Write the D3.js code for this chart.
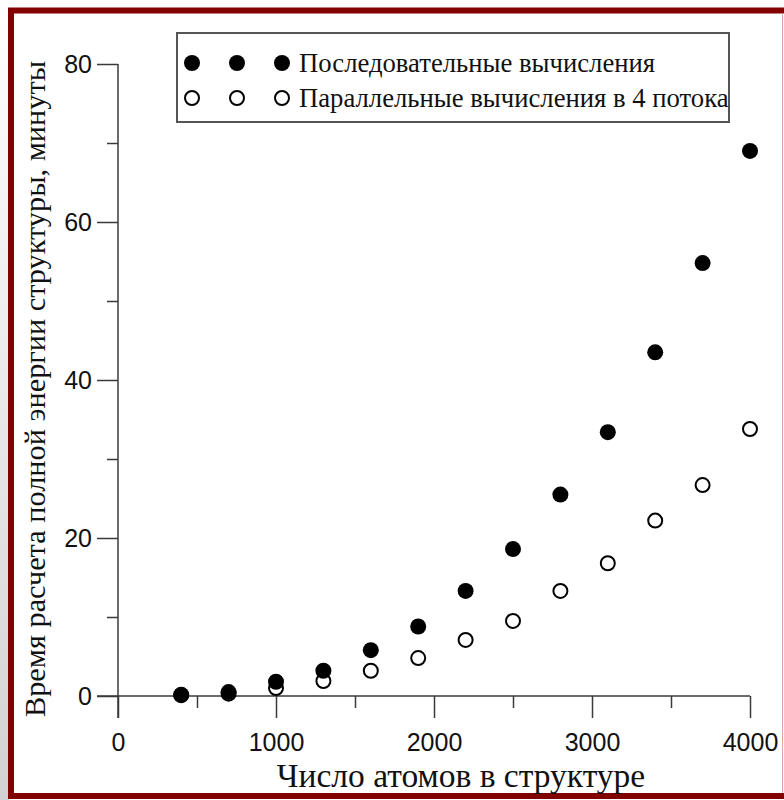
<!DOCTYPE html>
<html>
<head>
<meta charset="utf-8">
<script src="https://cdn.jsdelivr.net/npm/d3@7/dist/d3.min.js"></script>
<style>
  html, body { margin: 0; padding: 0; background: #fff; }
  svg { display: block; }
</style>
</head>
<body>
<script>
// Atom counts in the structure
const atoms = [400, 700, 1000, 1300, 1600, 1900, 2200, 2500, 2800, 3100, 3400, 3700, 4000];
// Total energy computation time, minutes
const sequentialMinutes = [0.15, 0.5, 1.8, 3.2, 5.8, 8.8, 13.3, 18.6, 25.5, 33.4, 43.5, 54.8, 69.0];
const parallelMinutes   = [0.1, 0.3, 1.0, 1.9, 3.2, 4.8, 7.1, 9.5, 13.3, 16.8, 22.2, 26.7, 33.8];

const xTicks = [0, 1000, 2000, 3000, 4000];
const xMinorTicks = [500, 1500, 2500, 3500];
const yTicks = [0, 20, 40, 60, 80];
const yMinorTicks = [10, 30, 50, 70];

const legendLabels = ["Последовательные вычисления", "Параллельные вычисления в 4 потока"];
const xTitle = "Число атомов в структуре";
const yTitle = "Время расчета полной энергии структуры, минуты";

const W = 784, H = 800;
const svg = d3.select("body").append("svg").attr("width", W).attr("height", H);

// Soft grey shade along the left edge of the slide
const defs = svg.append("defs");
const grad = defs.append("linearGradient").attr("id", "leftShade")
  .attr("x1", 0).attr("y1", 0).attr("x2", 0).attr("y2", 1);
grad.append("stop").attr("offset", "0%").attr("stop-color", "#ffffff");
grad.append("stop").attr("offset", "30%").attr("stop-color", "#f2f2f2");
grad.append("stop").attr("offset", "100%").attr("stop-color", "#d2d2d2");
svg.append("rect").attr("x", 0).attr("y", 0).attr("width", 9).attr("height", H)
  .attr("fill", "url(#leftShade)");

// Dark red frame (right side runs past the window)
svg.append("rect").attr("x", 11).attr("y", 10.5).attr("width", 790).attr("height", 785.5)
  .attr("fill", "#ffffff").attr("stroke", "#820000").attr("stroke-width", 6);
svg.append("line").attr("x1", 782.5).attr("x2", 782.5).attr("y1", 13).attr("y2", 793)
  .attr("stroke", "#dba6a6").attr("stroke-width", 1);

const x = d3.scaleLinear().domain([0, 4000]).range([118, 750]);
const y = d3.scaleLinear().domain([0, 80]).range([696, 64]);

const axisColor = "#3a3a3a";
const tickFont = "'Liberation Sans', Arial, sans-serif";
const serif = "'Liberation Serif', 'Times New Roman', serif";

// Major and minor ticks drawn with d3 axes
function styleAxis(g) {
  g.select(".domain").remove();
  g.selectAll(".tick line").attr("stroke", axisColor).attr("stroke-width", 1.5);
}

const xAxis = svg.append("g").attr("transform", `translate(0,${y(0)})`)
  .call(d3.axisBottom(x).tickValues(xTicks).tickSize(22).tickPadding(15).tickFormat(d3.format("d")));
styleAxis(xAxis);
xAxis.selectAll("text").attr("font-family", tickFont).attr("font-size", 25).attr("fill", "#111");

const xMinor = svg.append("g").attr("transform", `translate(0,${y(0)})`)
  .call(d3.axisBottom(x).tickValues(xMinorTicks).tickSize(12).tickFormat(""));
styleAxis(xMinor);

const yAxis = svg.append("g").attr("transform", `translate(${x(0)},0)`)
  .call(d3.axisLeft(y).tickValues(yTicks).tickSize(21).tickPadding(5).tickFormat(d3.format("d")));
styleAxis(yAxis);
yAxis.selectAll("text").attr("font-family", tickFont).attr("font-size", 25).attr("fill", "#111")
  .attr("dy", "0.35em");

const yMinor = svg.append("g").attr("transform", `translate(${x(0)},0)`)
  .call(d3.axisLeft(y).tickValues(yMinorTicks).tickSize(11).tickFormat(""));
styleAxis(yMinor);

// Axis lines
svg.append("line").attr("x1", x(0) - 21).attr("x2", x(4000)).attr("y1", y(0)).attr("y2", y(0))
  .attr("stroke", axisColor).attr("stroke-width", 1.5);
svg.append("line").attr("x1", x(0)).attr("x2", x(0)).attr("y1", y(80)).attr("y2", y(0) + 22)
  .attr("stroke", axisColor).attr("stroke-width", 1.5);

// Axis titles
svg.append("text").attr("x", 461).attr("y", 787).attr("text-anchor", "middle")
  .attr("font-family", serif).attr("font-size", 33.5).attr("fill", "#111").text(xTitle);
svg.append("text").attr("transform", `translate(45,389) rotate(-90)`).attr("text-anchor", "middle")
  .attr("font-family", serif).attr("font-size", 30.3).attr("fill", "#111").text(yTitle);

// Data points: open (parallel) beneath filled (sequential)
const R = 8;
svg.append("g").selectAll("circle").data(atoms).join("circle")
  .attr("cx", d => x(d)).attr("cy", (d, i) => y(parallelMinutes[i])).attr("r", R - 1)
  .attr("fill", "#fff").attr("stroke", "#000").attr("stroke-width", 2);
svg.append("g").selectAll("circle").data(atoms).join("circle")
  .attr("cx", d => x(d)).attr("cy", (d, i) => y(sequentialMinutes[i])).attr("r", R)
  .attr("fill", "#000");

// Legend
const lg = svg.append("g");
lg.append("rect").attr("x", 177).attr("y", 33).attr("width", 552).attr("height", 89)
  .attr("fill", "#fff").attr("stroke", "#555").attr("stroke-width", 2);
const rows = [
  { label: legendLabels[0], filled: true, cy: 63 },
  { label: legendLabels[1], filled: false, cy: 98 }
];
rows.forEach(r => {
  [192, 237, 282].forEach(cx => {
    lg.append("circle").attr("cx", cx).attr("cy", r.cy)
      .attr("r", r.filled ? R : R - 1)
      .attr("fill", r.filled ? "#000" : "#fff")
      .attr("stroke", r.filled ? "none" : "#000").attr("stroke-width", 2);
  });
  lg.append("text").attr("x", 299).attr("y", r.cy).attr("dy", "0.35em")
    .attr("font-family", serif).attr("font-size", 26.7).attr("fill", "#111").text(r.label);
});
</script>
</body>
</html>
